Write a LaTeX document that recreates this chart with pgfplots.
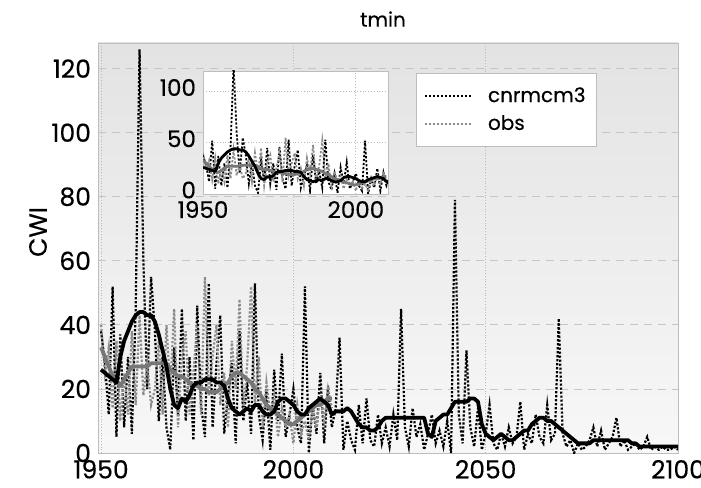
\documentclass[border=0pt]{standalone}
\usepackage{fontspec}
\setmainfont{Poppins}[FakeBold=0.35]
\usepackage{pgfplots}
\usepackage{pgfplotstable}
\pgfplotsset{compat=1.18}

\definecolor{obsgray}{HTML}{8C8C8C}
\definecolor{smgray}{HTML}{777777}
\definecolor{framegray}{HTML}{BDBDBD}

% annual values, model and observations
\pgfplotstableread{
year val
1950 38
1951 28
1952 12
1953 52
1954 5
1955 37
1956 8
1957 30
1958 6
1959 45
1960 126
1961 60
1962 20
1963 55
1964 38
1965 10
1966 30
1967 8
1968 1
1969 33
1970 12
1971 45
1972 10
1973 30
1974 4
1975 46
1976 15
1977 5
1978 53
1979 8
1980 28
1981 43
1982 6
1983 18
1984 28
1985 3
1986 38
1987 10
1988 22
1989 6
1990 53
1991 12
1992 4
1993 20
1994 1
1995 26
1996 10
1997 31
1998 5
1999 12
2000 20
2001 8
2002 3
2003 52
2004 0
2005 15
2006 6
2007 25
2008 3
2009 21
2010 8
2011 14
2012 36
2013 1
2014 10
2015 4
2016 1
2017 15
2018 3
2019 17
2020 4
2021 2
2022 12
2023 3
2024 8
2025 2
2026 12
2027 4
2028 45
2029 8
2030 2
2031 14
2032 5
2033 9
2034 1
2035 6
2036 12
2037 3
2038 7
2039 2
2040 10
2041 0
2042 79
2043 12
2044 3
2045 32
2046 8
2047 2
2048 14
2049 1
2050 6
2051 15
2052 3
2053 1
2054 6
2055 2
2056 8
2057 3
2058 5
2059 16
2060 1
2061 6
2062 3
2063 12
2064 5
2065 3
2066 15
2067 4
2068 6
2069 42
2070 6
2071 2
2072 4
2073 0
2074 3
2075 1
2076 2
2077 4
2078 8
2079 2
2080 7
2081 1
2082 3
2083 5
2084 11
2085 2
2086 4
2087 1
2088 2
2089 3
2090 1
2091 2
2092 5
2093 1
2094 2
2095 1
2096 2
2097 1
2098 1
2099 2
2100 1
}\cnrm

\pgfplotstableread{
year val
1950 40
1951 25
1952 33
1953 14
1954 35
1955 10
1956 25
1957 12
1958 38
1959 15
1960 43
1961 18
1962 28
1963 15
1964 20
1965 35
1966 12
1967 40
1968 20
1969 45
1970 8
1971 30
1972 38
1973 12
1974 25
1975 40
1976 12
1977 55
1978 18
1979 30
1980 40
1981 15
1982 25
1983 8
1984 35
1985 20
1986 48
1987 12
1988 28
1989 52
1990 15
1991 30
1992 8
1993 22
1994 12
1995 18
1996 5
1997 14
1998 8
1999 12
2000 3
2001 15
2002 6
2003 10
2004 4
2005 14
2006 8
2007 18
2008 10
2009 20
2010 14
}\obs

% smoothed curves
\pgfplotstableread{
year val
1950 26
1951 25
1952 24
1953 23
1954 22
1955 30
1956 35
1957 38
1958 41
1959 43
1960 44
1961 44
1962 43
1963 43
1964 41
1965 37
1966 32
1967 27
1968 20
1969 15
1970 14
1971 17
1972 16
1973 18
1974 21
1975 22
1976 22
1977 23
1978 23
1979 23
1980 22
1981 22
1982 21
1983 17
1984 14
1985 13
1986 12
1987 13
1988 14
1989 13
1990 15
1991 15
1992 13
1993 12
1994 12
1995 13
1996 16
1997 17
1998 17
1999 16
2000 15
2001 13
2002 12
2003 12
2004 14
2005 15
2006 16
2007 17
2008 16
2009 15
2010 12
2011 13
2012 13
2013 13
2014 14
2015 13
2016 11
2017 9
2018 8
2019 8
2020 7
2021 7
2022 8
2023 10
2024 11
2025 11
2026 11
2027 11
2028 11
2029 11
2030 11
2031 11
2032 11
2033 11
2034 11
2035 6
2036 5
2037 10
2038 11
2039 12
2040 12
2041 14
2042 16
2043 16
2044 16
2045 16
2046 17
2047 17
2048 16
2049 9
2050 6
2051 5
2052 4
2053 5
2054 6
2055 5
2056 4
2057 4
2058 5
2059 6
2060 7
2061 7
2062 9
2063 10
2064 11
2065 11
2066 10
2067 10
2068 9
2069 8
2070 7
2071 6
2072 5
2073 4
2074 3
2075 3
2076 3
2077 3
2078 4
2079 4
2080 4
2081 4
2082 4
2083 4
2084 4
2085 4
2086 4
2087 4
2088 3
2089 3
2090 2
2091 2
2092 2
2093 2
2094 2
2095 2
2096 2
2097 2
2098 2
2099 2
2100 2
}\cnrmsm

\pgfplotstableread{
year val
1950 33
1951 30
1952 27
1953 24
1954 22
1955 21
1956 23
1957 25
1958 27
1959 27
1960 27
1961 27
1962 27
1963 28
1964 28
1965 28
1966 28
1967 28
1968 26
1969 25
1970 24
1971 24
1972 23
1973 22
1974 21
1975 21
1976 20
1977 20
1978 19
1979 19
1980 19
1981 20
1982 21
1983 22
1984 24
1985 25
1986 25
1987 24
1988 23
1989 22
1990 20
1991 19
1992 17
1993 15
1994 14
1995 13
1996 12
1997 11
1998 10
1999 9
2000 9
2001 10
2002 11
2003 12
2004 13
2005 14
2006 15
2007 15
2008 16
2009 17
2010 17
}\obssm

\pgfplotsset{
  cwi/.style={
    scale only axis,
    axis line style={framegray},
    tick style={draw=none},
    /pgf/number format/assume math mode=true,
    /pgf/number format/1000 sep={},
    ticklabel style={font=\fontsize{12.5}{14}\selectfont},
    xmajorgrids, ymajorgrids,
  },
  dotblack/.style={black, line width=1.1pt, dash pattern=on 1.1pt off 0.9pt},
  dotgray/.style={obsgray, line width=1.1pt, dash pattern=on 1.1pt off 0.9pt},
  smblack/.style={black, line width=1.9pt, line join=round},
  smgrayl/.style={smgray, line width=1.9pt, line join=round},
}

\begin{document}
\begin{tikzpicture}[x=0.5pt,y=0.5pt]
\begin{axis}[cwi,
  at={(49pt,17pt)}, anchor=south west,
  width=290pt, height=205pt,
  xmin=1949.2, xmax=2100, ymin=0, ymax=128,
  xtick={1950,2000,2050,2100},
  ytick={0,20,40,60,80,100,120},
  x grid style={gray!55, densely dotted},
  y grid style={gray!45, dash pattern=on 4pt off 3pt},
  axis background/.style={top color=black!11, bottom color=black!3},
  legend style={at={(0.549,0.927)}, anchor=north west, draw=framegray,
    fill=white, font=\fontsize{10}{12}\selectfont, inner xsep=3.5pt,
    inner ysep=5pt, row sep=1pt},
  legend cell align=left,
  legend image code/.code={\draw[#1] (0pt,0pt) -- (23pt,0pt);},
]
\addplot[dotblack] table[x=year, y=val] {\cnrm};
\addlegendentry{\hspace{6pt}cnrmcm3}
\addplot[dotgray] table[x=year, y=val] {\obs};
\addlegendentry{\hspace{6pt}obs}
\addplot[smgrayl, forget plot] table[x=year, y=val] {\obssm};
\addplot[smblack, forget plot] table[x=year, y=val] {\cnrmsm};
\end{axis}

\begin{axis}[cwi,
  at={(101.5pt,146.5pt)}, anchor=south west,
  width=92.5pt, height=61.5pt,
  xmin=1950, xmax=2010.5, ymin=0, ymax=120,
  xtick={1950,2000}, ytick={0,50,100},
  ticklabel style={font=\fontsize{11.5}{13}\selectfont},
  grid style={gray!55, densely dotted},
  axis background/.style={fill=white},
  yticklabel style={yshift=2pt},
]
\addplot[dotblack, line width=0.9pt] table[x=year, y=val] {\cnrm};
\addplot[dotgray, line width=0.9pt] table[x=year, y=val] {\obs};
\addplot[smgrayl, line width=1.4pt] table[x=year, y=val] {\obssm};
\addplot[smblack, line width=1.4pt] table[x=year, y=val] {\cnrmsm};
\end{axis}

\node[font=\fontsize{10}{12}\selectfont] at (383,468) {tmin};
\node[rotate=90, font=\fontsize{12.5}{14}\selectfont] at (38,255) {CWI};
\pgfresetboundingbox
\useasboundingbox (0,0) rectangle (701,487);
\end{tikzpicture}
\end{document}
